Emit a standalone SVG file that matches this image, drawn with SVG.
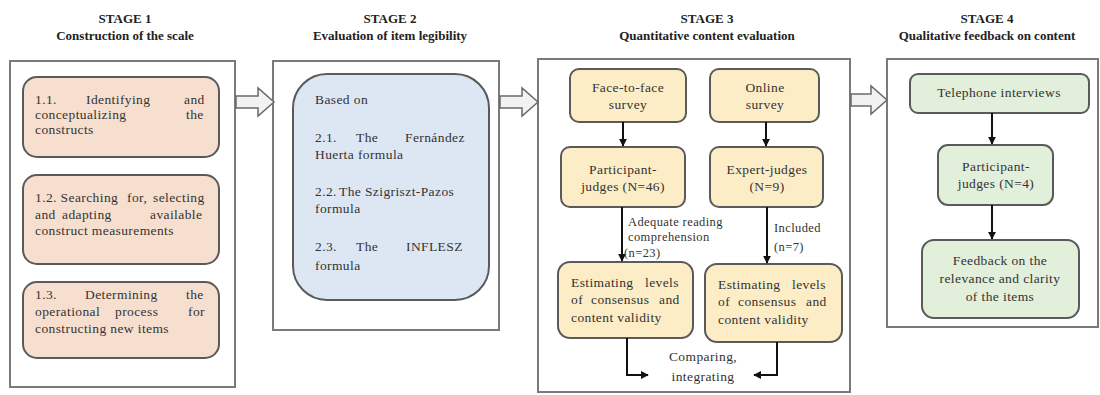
<svg xmlns="http://www.w3.org/2000/svg" width="1100" height="395" viewBox="0 0 1100 395">
<defs>
<style>
.t{font-family:'Liberation Serif','Tinos','DejaVu Serif',serif;font-size:13.5px;fill:#333;letter-spacing:0.4px}
.h{font-family:'Liberation Serif','Tinos','DejaVu Serif',serif;font-size:13px;font-weight:bold;fill:#222;text-anchor:middle}
.c{text-anchor:middle}
.sm{font-size:12.5px}
.outer{fill:#fff;stroke:#7a7a7a;stroke-width:2}
.s1{fill:#f7dfcf;stroke:#5a5a5a;stroke-width:2}
.s2{fill:#dde7f3;stroke:#5a5a5a;stroke-width:2}
.s3{fill:#fcedc6;stroke:#5a5a5a;stroke-width:2}
.s4{fill:#e2efda;stroke:#5a5a5a;stroke-width:2}
.big{fill:#f2f2f2;stroke:#6a6a6a;stroke-width:1.5}
.ln{fill:none;stroke:#111;stroke-width:2}
</style>
<marker id="ah" viewBox="0 0 10 10" refX="9" refY="5" markerWidth="4" markerHeight="4" orient="auto" markerUnits="strokeWidth">
<path d="M0,0 L10,5 L0,10 z" fill="#111"/>
</marker>
</defs>

<g id="titles">
<text class="h" x="125" y="23">STAGE 1</text>
<text class="h" x="125" y="40">Construction of the scale</text>
<text class="h" x="390" y="23">STAGE 2</text>
<text class="h" x="390" y="40">Evaluation of item legibility</text>
<text class="h" x="707" y="23">STAGE 3</text>
<text class="h" x="707" y="40">Quantitative content evaluation</text>
<text class="h" x="987" y="23">STAGE 4</text>
<text class="h" x="987" y="40">Qualitative feedback on content</text>
</g>

<g id="stage1">
<rect class="outer" x="10" y="61" width="225" height="326"/>
<g id="n11">
<rect class="s1" x="23" y="77" width="196" height="80" rx="14"/>
<text class="t" y="104"><tspan x="35">1.1.</tspan><tspan x="86">Identifying</tspan><tspan x="184">and</tspan></text>
<text class="t" y="119"><tspan x="35">conceptualizing</tspan><tspan x="186">the</tspan></text>
<text class="t" x="35" y="134">constructs</text>
</g>
<g id="n12">
<rect class="s1" x="23" y="175" width="196" height="89" rx="14"/>
<text class="t" y="202"><tspan x="35">1.2. Searching</tspan><tspan x="127">for,</tspan><tspan x="153">selecting</tspan></text>
<text class="t" y="219"><tspan x="35">and</tspan><tspan x="62">adapting</tspan><tspan x="150">available</tspan></text>
<text class="t" x="35" y="235">construct measurements</text>
</g>
<g id="n13">
<rect class="s1" x="23" y="282" width="196" height="76" rx="14"/>
<text class="t" y="299"><tspan x="35">1.3.</tspan><tspan x="85">Determining</tspan><tspan x="186">the</tspan></text>
<text class="t" y="316"><tspan x="35">operational</tspan><tspan x="115">process</tspan><tspan x="188">for</tspan></text>
<text class="t" x="35" y="333">constructing new items</text>
</g>
</g>

<g id="stage2">
<rect class="outer" x="273" y="61" width="226" height="269"/>
<g id="n2">
<rect class="s2" x="293" y="74" width="196" height="226" rx="34"/>
<text class="t" x="315" y="104">Based on</text>
<text class="t" y="142"><tspan x="315">2.1.</tspan><tspan x="356">The</tspan><tspan x="405">Fernández</tspan></text>
<text class="t" x="315" y="159">Huerta formula</text>
<text class="t" y="196"><tspan x="315">2.2.</tspan><tspan x="339">The Szigriszt-Pazos</tspan></text>
<text class="t" x="315" y="213">formula</text>
<text class="t" y="251"><tspan x="315">2.3.</tspan><tspan x="356">The</tspan><tspan x="406">INFLESZ</tspan></text>
<text class="t" x="315" y="270">formula</text>
</g>
</g>

<g id="stage3">
<rect class="outer" x="538" y="59" width="312" height="333"/>
<g id="n3a">
<rect class="s3" x="570" y="69" width="116" height="53" rx="9"/>
<text class="t c" x="628" y="92">Face-to-face</text>
<text class="t c" x="628" y="109">survey</text>
</g>
<g id="n3b">
<rect class="s3" x="710" y="69" width="109" height="53" rx="9"/>
<text class="t c" x="765" y="92">Online</text>
<text class="t c" x="765" y="109">survey</text>
</g>
<g id="n3c">
<rect class="s3" x="561" y="147" width="124" height="60" rx="9"/>
<text class="t c" x="623" y="174">Participant-</text>
<text class="t c" x="623" y="191">judges (N=46)</text>
</g>
<g id="n3d">
<rect class="s3" x="710" y="147" width="113" height="60" rx="9"/>
<text class="t c" x="767" y="174">Expert-judges</text>
<text class="t c" x="767" y="191">(N=9)</text>
</g>
<g id="n3e">
<rect class="s3" x="558" y="262" width="135" height="76" rx="12"/>
<text class="t" y="287"><tspan x="571">Estimating</tspan><tspan x="645">levels</tspan></text>
<text class="t" y="304"><tspan x="571">of</tspan><tspan x="591">consensus</tspan><tspan x="659">and</tspan></text>
<text class="t" x="571" y="322">content validity</text>
</g>
<g id="n3f">
<rect class="s3" x="705" y="264" width="137" height="78" rx="12"/>
<text class="t" y="289"><tspan x="718">Estimating</tspan><tspan x="792">levels</tspan></text>
<text class="t" y="306"><tspan x="718">of</tspan><tspan x="738">consensus</tspan><tspan x="806">and</tspan></text>
<text class="t" x="718" y="324">content validity</text>
</g>
<g id="n3g">
<text class="t c" x="703" y="361">Comparing,</text>
<text class="t c" x="703" y="381">integrating</text>
</g>
</g>

<g id="stage4">
<rect class="outer" x="887" y="59" width="211" height="268"/>
<g id="n4a">
<rect class="s4" x="910" y="74" width="179" height="39" rx="8"/>
<text class="t c" x="999" y="97">Telephone interviews</text>
</g>
<g id="n4b">
<rect class="s4" x="938" y="145" width="115" height="60" rx="10"/>
<text class="t c" x="996" y="171">Participant-</text>
<text class="t c" x="996" y="188">judges (N=4)</text>
</g>
<g id="n4c">
<rect class="s4" x="922" y="240" width="157" height="78" rx="12"/>
<text class="t c" x="1000" y="265">Feedback on the</text>
<text class="t c" x="1000" y="283">relevance and clarity</text>
<text class="t c" x="1000" y="301">of the items</text>
</g>
</g>

<g id="connectors">
<polygon class="big" points="236,96 258,96 258,88 274,102 258,116 258,108 236,108"/>
<polygon class="big" points="500,96 522,96 522,88 538,102 522,116 522,108 500,108"/>
<polygon class="big" points="851,94 871,94 871,86 887,100 871,114 871,106 851,106"/>
<line class="ln" x1="623" y1="122" x2="623" y2="146" marker-end="url(#ah)"/>
<line class="ln" x1="766" y1="122" x2="766" y2="146" marker-end="url(#ah)"/>
<line class="ln" x1="622" y1="207" x2="622" y2="261" marker-end="url(#ah)"/>
<line class="ln" x1="767" y1="207" x2="767" y2="263" marker-end="url(#ah)"/>
<polyline class="ln" points="627,338 627,375 648,375" marker-end="url(#ah)"/>
<polyline class="ln" points="777,342 777,375 754,375" marker-end="url(#ah)"/>
<line class="ln" x1="992" y1="113" x2="992" y2="144" marker-end="url(#ah)"/>
<line class="ln" x1="992" y1="205" x2="992" y2="239" marker-end="url(#ah)"/>
<text class="t sm" x="628" y="226">Adequate reading</text>
<text class="t sm" x="628" y="241">comprehension</text>
<text class="t sm" x="624" y="257">(n=23)</text>
<text class="t sm" x="774" y="232">Included</text>
<text class="t sm" x="774" y="251">(n=7)</text>
</g>
</svg>
